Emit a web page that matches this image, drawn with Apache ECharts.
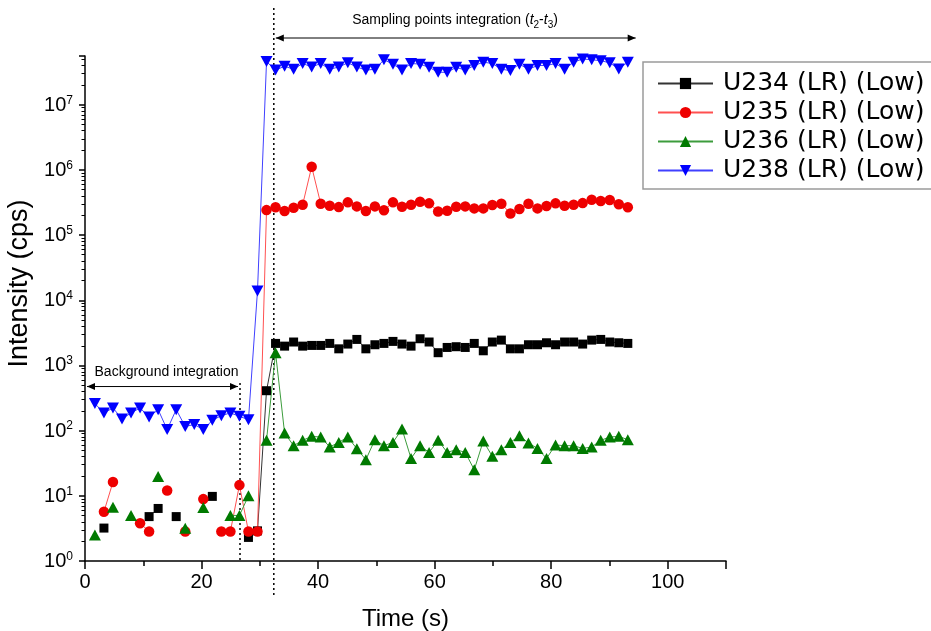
<!DOCTYPE html>
<html><head><meta charset="utf-8">
<script src="https://cdn.jsdelivr.net/npm/echarts@6/dist/echarts.min.js"></script>
<style>html,body{margin:0;padding:0;background:#fff}#c{width:931px;height:631px}</style>
</head><body><div id="c"></div>
<script>
// ---- data (time in s, intensity in cps; null = not detected) ----
const times = [1.70,3.25,4.80,6.35,7.90,9.45,11.00,12.55,14.10,15.65,17.20,18.75,20.30,21.85,23.40,24.95,26.50,28.05,29.60,31.15,
  32.70,34.25,35.80,37.35,38.90,40.45,42.00,43.55,45.10,46.65,48.20,49.75,51.30,52.85,54.40,55.95,57.50,59.05,60.60,62.15,
  63.70,65.25,66.80,68.35,69.90,71.45,73.00,74.55,76.10,77.65,79.20,80.75,82.30,83.85,85.40,86.95,88.50,90.05,91.60,93.15];
const u234 = [null,3.2,null,null,null,null,4.8,6.4,null,4.8,null,null,null,9.8,null,null,null,2.3,2.9,410,
  2180,1980,2290,1980,2030,2030,2180,1800,2130,2510,1800,2080,2180,2340,2130,1980,2570,2290,1570,1890,
  1940,1890,2180,1680,2290,2450,1800,1800,2080,2080,2230,2080,2290,2290,2130,2450,2510,2290,2230,2180];
const u235 = [null,5.7,16.3,null,null,3.8,2.83,null,12.1,null,2.83,null,8.9,null,2.83,2.83,14.6,2.83,2.83,2.42e5,
  2.67e5,2.34e5,2.63e5,2.93e5,1.12e6,3.03e5,2.83e5,2.69e5,3.18e5,2.76e5,2.34e5,2.76e5,2.4e5,3.18e5,2.73e5,2.93e5,3.26e5,3.07e5,2.31e5,2.37e5,
  2.73e5,2.76e5,2.57e5,2.57e5,2.9e5,3.03e5,2.15e5,2.51e5,3.03e5,2.57e5,2.79e5,3.07e5,2.83e5,2.93e5,3.1e5,3.49e5,3.33e5,3.45e5,2.97e5,2.67e5];
const u236 = [2.5,null,6.7,null,5.0,null,null,19.8,null,null,3.18,null,6.6,null,null,5.0,5.0,10,null,71,
  1570,92,58.8,71,81.7,79.8,56.1,66,79.8,52.8,35.8,72.7,58.8,66,106,37.5,58.8,46.4,71,46.4,
  51,46.4,25.1,69.4,40.3,51,66,83.7,64.6,53.4,37.5,60.3,58.8,58.8,53.4,56.1,71,79.8,81.7,72.7];
const u238 = [260,187,223,151,187,223,162,210,104,210,116,124,104,144,170,187,166,147,13900,4.6e7,
  3.4e7,3.9e7,3.5e7,4.3e7,3.8e7,4.3e7,3.5e7,3.8e7,4.4e7,3.8e7,3.4e7,3.5e7,4.9e7,4.2e7,3.4e7,4.3e7,4.2e7,3.75e7,3.15e7,3.15e7,
  3.75e7,3.4e7,4.0e7,4.5e7,4.3e7,3.5e7,3.35e7,4.2e7,3.5e7,4.0e7,4.0e7,4.3e7,3.5e7,4.5e7,5.05e7,4.9e7,4.75e7,4.4e7,3.55e7,4.5e7];
const seriesNames = ['U234 (LR) (Low)','U235 (LR) (Low)','U236 (LR) (Low)','U238 (LR) (Low)'];
// annotation positions (data units)
const bgWindow = [0, 26.6];       // background integration t1..t2 (s)
const sampleWindow = [32.4, 94.5];// sampling integration t2..t3 (s)
const bgArrowLevel = 475;         // cps
const bgLineTop = 540;            // cps
const sampleTextAt = 63.5;        // s

const FONT = 'Liberation Sans';
const chart = echarts.init(document.getElementById('c'));
function pairs(vals){ return times.map((t,i)=>[t, vals[i]==null ? '-' : vals[i]]); }
function mk(name, vals, symbol, size, color, lineColor, rotate){
  return {name, type:'line', data:pairs(vals), symbol, symbolSize:size, symbolRotate:rotate||0,
    showAllSymbol:true, connectNulls:false, clip:false, animation:false,
    itemStyle:{color}, lineStyle:{color:lineColor, width:1}, emphasis:{disabled:true}};
}
function yLabel(v){
  const e = Math.round(Math.log10(v));
  if (Math.abs(v - Math.pow(10,e)) > 1e-6*v) return '';
  return '{b|10}{s|' + e + '}';
}
chart.setOption({
  animation:false,
  grid:{left:85, right:205, top:56, bottom:70, containLabel:false, outerBoundsMode:'none'},
  legend:{left:643, top:62, orient:'vertical', itemWidth:55, itemHeight:14, itemGap:4,
    padding:[9,24,6,14], borderColor:'#9a9a9a', borderWidth:1.5, backgroundColor:'#fff',
    textStyle:{fontFamily:'DejaVu Sans', fontSize:25, color:'#000', padding:[0,0,0,5]},
    data:seriesNames, selectedMode:false},
  xAxis:{type:'value', min:0, max:110, interval:20,
    axisLine:{onZero:false, lineStyle:{color:'#000', width:1.5}},
    axisTick:{length:8, lineStyle:{color:'#000', width:1.5}},
    minorTick:{show:true, splitNumber:2, length:5, lineStyle:{color:'#000', width:1.5}},
    splitLine:{show:false},
    axisLabel:{showMaxLabel:false, fontFamily:FONT, fontSize:20, color:'#000', margin:11},
    name:'Time (s)', nameLocation:'middle', nameGap:46,
    nameTextStyle:{fontFamily:FONT, fontSize:24, color:'#000'}},
  yAxis:{type:'log', logBase:10, min:1, max:5.6e7, splitNumber:8,
    axisLine:{show:true, onZero:false, lineStyle:{color:'#000', width:1.5}},
    axisTick:{show:true, length:6, lineStyle:{color:'#000', width:1.5}},
    minorTick:{show:true, splitNumber:9, length:3.5, lineStyle:{color:'#000', width:1}},
    splitLine:{show:false}, minorSplitLine:{show:false},
    axisLabel:{formatter:yLabel, margin:12, color:'#000',
      rich:{b:{fontFamily:FONT, fontSize:20, color:'#000', verticalAlign:'bottom'},
            s:{fontFamily:FONT, fontSize:12, color:'#000', verticalAlign:'bottom', padding:[0,0,9,0]}}},
    name:'Intensity (cps)', nameLocation:'middle', nameGap:48,
    nameTextStyle:{fontFamily:FONT, fontSize:27, color:'#000', padding:[0,0,0,50]}},
  series:[
    mk(seriesNames[0], u234, 'rect', 9, '#000000', '#333333'),
    mk(seriesNames[1], u235, 'circle', 10.5, '#ee0000', '#ff5050'),
    mk(seriesNames[2], u236, 'triangle', [12,11], '#007a00', '#3c9c3c'),
    mk(seriesNames[3], u238, 'triangle', [12,11], '#0000ff', '#4040ff', 180)
  ]
});

// annotations placed through the axes' scales
const px = (t, v) => chart.convertToPixel({xAxisIndex:0, yAxisIndex:0}, [t, v]);
function arrowHead(x, y, dir){
  return {type:'polygon', shape:{points:[[x,y],[x+dir*8,y-3.5],[x+dir*8,y+3.5]]}, style:{fill:'#000'}, silent:true};
}
const g = [];
const lTop = px(bgWindow[1], bgLineTop), lBot = px(bgWindow[1], 1);
g.push({type:'line', shape:{x1:lTop[0], y1:lTop[1], x2:lBot[0], y2:lBot[1]}, style:{stroke:'#000', lineWidth:1.5, lineDash:[2,3]}, silent:true});
const rX = px(sampleWindow[0], 1)[0];
g.push({type:'line', shape:{x1:rX, y1:8, x2:rX, y2:598}, style:{stroke:'#000', lineWidth:1.5, lineDash:[2,3]}, silent:true});
const bA = px(bgWindow[0], bgArrowLevel), bB = px(bgWindow[1], bgArrowLevel);
g.push({type:'line', shape:{x1:bA[0]+2, y1:bA[1], x2:bB[0]-2, y2:bB[1]}, style:{stroke:'#000', lineWidth:1}, silent:true});
g.push(arrowHead(bA[0]+2, bA[1], 1), arrowHead(bB[0]-2, bB[1], -1));
g.push({type:'text', x:(bA[0]+bB[0])/2+4, y:bA[1]-14, style:{text:'Background integration', fontFamily:FONT, fontSize:14, fill:'#000', align:'center', verticalAlign:'middle'}, silent:true});
const sA = px(sampleWindow[0], 1)[0], sB = px(sampleWindow[1], 1)[0];
const topY = 38;
g.push({type:'line', shape:{x1:sA+2, y1:topY, x2:sB, y2:topY}, style:{stroke:'#000', lineWidth:1}, silent:true});
g.push(arrowHead(sA+2, topY, 1), arrowHead(sB, topY, -1));
g.push({type:'text', x:px(sampleTextAt,1)[0], y:22, style:{
  text:'{n|Sampling points integration (}{i|t}{u|2}{n|-}{i|t}{u|3}{n|)}', align:'center', verticalAlign:'middle',
  rich:{n:{fontFamily:FONT, fontSize:14, fill:'#000', verticalAlign:'bottom', padding:[0,0,3,0]},
        i:{fontFamily:FONT, fontSize:14, fontStyle:'italic', fill:'#000', verticalAlign:'bottom', padding:[0,0,3,0]},
        u:{fontFamily:FONT, fontSize:10, fill:'#000', verticalAlign:'bottom'}}}, silent:true});
chart.setOption({graphic:g});
</script></body></html>
